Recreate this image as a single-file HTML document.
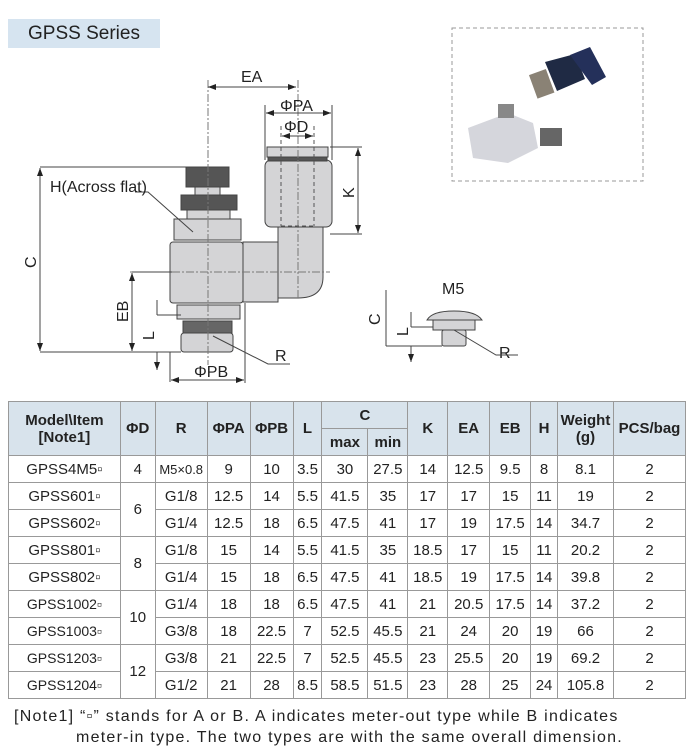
<!DOCTYPE html>
<html><head><meta charset="utf-8"><style>
body{margin:0;width:686px;height:748px;background:#fff;position:relative;overflow:hidden;font-family:"Liberation Sans",sans-serif;color:#222}
.title{position:absolute;left:8px;top:19px;width:152px;height:29px;background:#d6e4f0;font-size:19px;line-height:29px;text-align:center}
table{position:absolute;left:8px;top:401px;border-collapse:collapse;table-layout:fixed}
td{border:1px solid #999;text-align:center;padding:0;font-size:15px;height:26px;white-space:nowrap}
thead td{background:#d8e3ec;font-weight:bold;font-size:15px;height:26px}
.note{position:absolute;left:14px;top:706px;font-size:16px;line-height:21px;letter-spacing:1.25px;white-space:nowrap}
</style></head><body>
<div class="title">GPSS Series</div>
<svg width="686" height="400" style="position:absolute;left:0;top:0" font-family="Liberation Sans,sans-serif" fill="none" stroke="#333" stroke-width="1">
<defs><marker id="a" markerWidth="8" markerHeight="6" refX="8" refY="3" orient="auto-start-reverse"><path d="M0,0L8,3L0,6z" fill="#222" stroke="none"/></marker></defs>
<rect x="452" y="28" width="191" height="153" stroke="#999" stroke-dasharray="4,3"/>
<path d="M545,62 l30,-8 l10,25 l-28,12z" fill="#1f2a44" stroke="none"/>
<path d="M570,55 l20,-8 l16,30 l-14,8z" fill="#24305a" stroke="none"/>
<rect x="533" y="72" width="18" height="25" fill="#8a8275" stroke="none" transform="rotate(-20 540 85)"/>
<path d="M468,128 l40,-15 l25,10 l5,25 l-30,15 l-35,-5z" fill="#d5d6dc" stroke="none"/>
<rect x="540" y="128" width="22" height="18" fill="#666" stroke="none"/>
<rect x="498" y="104" width="16" height="14" fill="#888" stroke="none"/>
<g fill="#d4d4d6" stroke="#444">
<rect x="186" y="167" width="43" height="20" fill="#555"/>
<rect x="195" y="187" width="25" height="8"/>
<rect x="181" y="195" width="56" height="15" fill="#555"/>
<rect x="187" y="210" width="43" height="9"/>
<rect x="174" y="219" width="67" height="21"/>
<rect x="170" y="242" width="73" height="61" rx="3"/>
<rect x="243" y="242" width="35" height="60"/>
<path d="M273,227 h50 v50 q0,21 -25,21 h-20 v-71z"/>
<rect x="265" y="160" width="67" height="67" rx="6"/>
<rect x="267" y="147" width="61" height="10"/>
<rect x="268" y="157" width="59" height="4" fill="#555"/>
<rect x="177" y="305" width="63" height="14"/>
<rect x="183" y="321" width="49" height="12" fill="#666"/>
<rect x="181" y="333" width="52" height="19" rx="3"/>
</g>
<g stroke="#777" stroke-dasharray="8,2,2,2"><path d="M208,80V365"/><path d="M130,272H330"/><path d="M298,80v220"/></g>
<g stroke="#555" stroke-dasharray="4,3"><path d="M281,126v100M314,126v100M281,226h33"/></g>
<g stroke="#444">
<path d="M40,167H186M40,352H181M265,105v55M332,105v55M330,147h32M330,234h32M132,272h40M157,315h24M170,352v30M245,303v80M213,336L268,364H290"/>
<path d="M208,87H296" marker-start="url(#a)" marker-end="url(#a)"/>
<path d="M266,113H331" marker-start="url(#a)" marker-end="url(#a)"/>
<path d="M282,136H313" marker-start="url(#a)" marker-end="url(#a)"/>
<path d="M40,168V351" marker-start="url(#a)" marker-end="url(#a)"/>
<path d="M358,148V233" marker-start="url(#a)" marker-end="url(#a)"/>
<path d="M132,273V351" marker-start="url(#a)" marker-end="url(#a)"/>
<path d="M157,300V315M157,352V370" marker-end="url(#a)"/>
<path d="M171,380H244" marker-start="url(#a)" marker-end="url(#a)"/>
<path d="M135,192H148L193,232"/>
</g>
<g fill="#222" stroke="none" font-size="16">
<text x="241" y="82">EA</text><text x="280" y="111">ΦPA</text><text x="284" y="132">ΦD</text>
<text x="50" y="192">H(Across flat)</text>
<text x="275" y="361">R</text><text x="194" y="377">ΦPB</text>
<text transform="translate(36,268) rotate(-90)">C</text>
<text transform="translate(128,322) rotate(-90)">EB</text>
<text transform="translate(154,340) rotate(-90)">L</text>
<text transform="translate(354,198) rotate(-90)">K</text>
<text x="442" y="294">M5</text><text x="499" y="358">R</text>
<text transform="translate(380,325) rotate(-90)">C</text>
<text transform="translate(408,336) rotate(-90)">L</text>
</g>
<g fill="#d4d4d6" stroke="#444">
<path d="M427,320 q5,-9 27,-9 q22,0 28,9z"/>
<rect x="433" y="320" width="42" height="10"/>
<rect x="442" y="330" width="24" height="16" rx="2"/>
</g>
<g stroke="#444"><path d="M386,290v56M386,346h56M411,327h22M454,330L496,355H518"/>
<path d="M411,312V327M411,346V362" marker-end="url(#a)"/></g>
</svg>
<table>
<colgroup><col style="width:112px"><col style="width:35px"><col style="width:52px"><col style="width:43px"><col style="width:43px"><col style="width:29px"><col style="width:46px"><col style="width:40px"><col style="width:40px"><col style="width:42px"><col style="width:41px"><col style="width:27px"><col style="width:56px"><col style="width:72px"></colgroup>
<thead>
<tr><td rowspan="2">Model\Item<br>[Note1]</td><td rowspan="2">ΦD</td><td rowspan="2">R</td><td rowspan="2">ΦPA</td><td rowspan="2">ΦPB</td><td rowspan="2">L</td><td colspan="2">C</td><td rowspan="2">K</td><td rowspan="2">EA</td><td rowspan="2">EB</td><td rowspan="2">H</td><td rowspan="2">Weight<br>(g)</td><td rowspan="2">PCS/bag</td></tr>
<tr><td>max</td><td>min</td></tr>
</thead>
<tbody>
<tr><td>GPSS4M5▫</td><td>4</td><td style="font-size:13px">M5×0.8</td><td>9</td><td>10</td><td>3.5</td><td>30</td><td>27.5</td><td>14</td><td>12.5</td><td>9.5</td><td>8</td><td>8.1</td><td>2</td></tr>
<tr><td>GPSS601▫</td><td rowspan="2">6</td><td>G1/8</td><td>12.5</td><td>14</td><td>5.5</td><td>41.5</td><td>35</td><td>17</td><td>17</td><td>15</td><td>11</td><td>19</td><td>2</td></tr>
<tr><td>GPSS602▫</td><td>G1/4</td><td>12.5</td><td>18</td><td>6.5</td><td>47.5</td><td>41</td><td>17</td><td>19</td><td>17.5</td><td>14</td><td>34.7</td><td>2</td></tr>
<tr><td>GPSS801▫</td><td rowspan="2">8</td><td>G1/8</td><td>15</td><td>14</td><td>5.5</td><td>41.5</td><td>35</td><td>18.5</td><td>17</td><td>15</td><td>11</td><td>20.2</td><td>2</td></tr>
<tr><td>GPSS802▫</td><td>G1/4</td><td>15</td><td>18</td><td>6.5</td><td>47.5</td><td>41</td><td>18.5</td><td>19</td><td>17.5</td><td>14</td><td>39.8</td><td>2</td></tr>
<tr><td style="font-size:14px">GPSS1002▫</td><td rowspan="2">10</td><td>G1/4</td><td>18</td><td>18</td><td>6.5</td><td>47.5</td><td>41</td><td>21</td><td>20.5</td><td>17.5</td><td>14</td><td>37.2</td><td>2</td></tr>
<tr><td style="font-size:14px">GPSS1003▫</td><td>G3/8</td><td>18</td><td>22.5</td><td>7</td><td>52.5</td><td>45.5</td><td>21</td><td>24</td><td>20</td><td>19</td><td>66</td><td>2</td></tr>
<tr><td style="font-size:14px">GPSS1203▫</td><td rowspan="2">12</td><td>G3/8</td><td>21</td><td>22.5</td><td>7</td><td>52.5</td><td>45.5</td><td>23</td><td>25.5</td><td>20</td><td>19</td><td>69.2</td><td>2</td></tr>
<tr><td style="font-size:14px">GPSS1204▫</td><td>G1/2</td><td>21</td><td>28</td><td>8.5</td><td>58.5</td><td>51.5</td><td>23</td><td>28</td><td>25</td><td>24</td><td>105.8</td><td>2</td></tr>
</tbody></table>
<div class="note">[Note1] “▫” stands for A or B. A indicates meter-out type while B indicates<br><span style="padding-left:62px">meter-in type. The two types are with the same overall dimension.</span></div>
</body></html>
